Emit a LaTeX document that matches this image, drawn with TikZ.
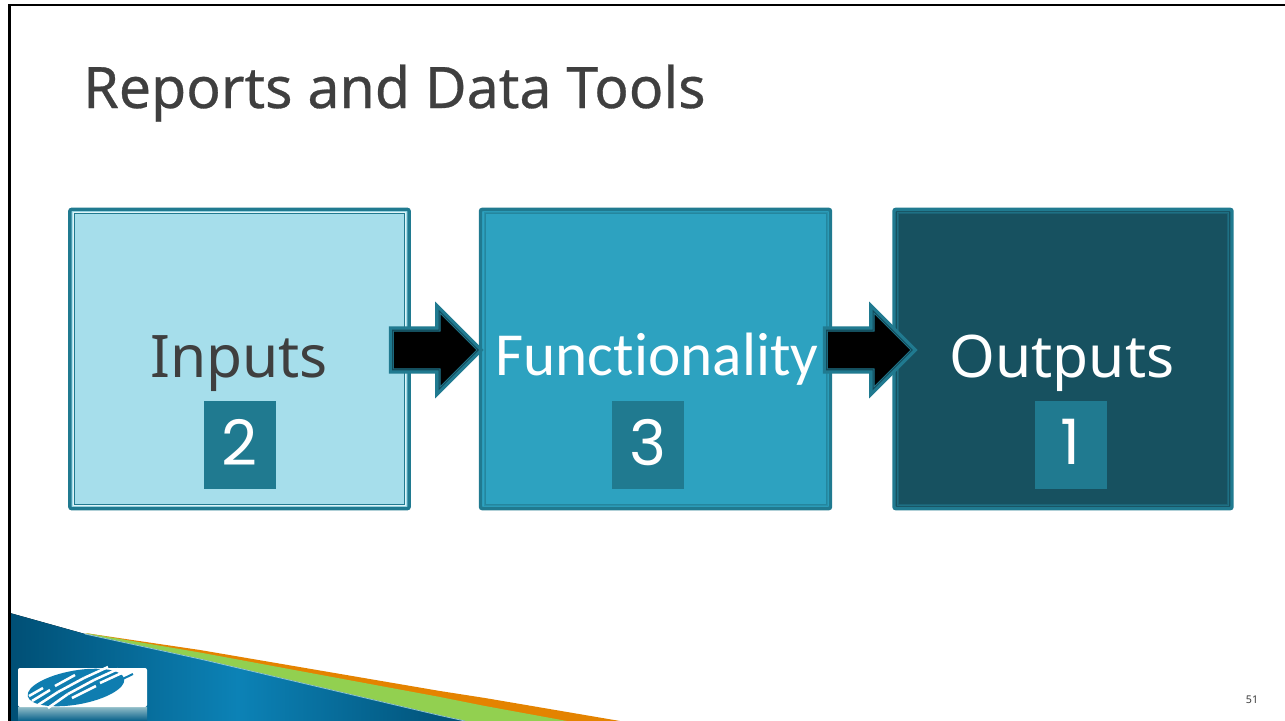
\documentclass[tikz,border=0pt]{standalone}
\usepackage{fontspec}
\setmainfont{Noto Sans}
\newfontfamily\boxfont[Ligatures=NoCommon]{Carlito}
\newfontfamily\digitfont{Poppins}
\newfontfamily\titlefont[FakeBold=0.5]{Noto Sans}
\usetikzlibrary{shapes.arrows,calc}
\definecolor{tealb}{HTML}{207A90}
\definecolor{lightb}{HTML}{A6DEEB}
\definecolor{midb}{HTML}{2DA2C0}
\definecolor{darkb}{HTML}{175160}
\definecolor{arrline}{HTML}{134A5A}
\definecolor{txtdark}{HTML}{3F3F3F}
\definecolor{swdark}{HTML}{004F75}
\definecolor{swmid}{HTML}{0C82B6}
\definecolor{swgreen}{HTML}{92D050}
\definecolor{sworange}{HTML}{E48300}
\definecolor{swedge}{HTML}{8FC5D5}
\definecolor{logob}{HTML}{0F7DB0}
\tikzset{
  x=0.75pt,y=-0.75pt,
  panel/.style n args={3}{draw=tealb,line width=2.6pt,fill=#1,rounded corners=1.5pt,
    minimum width=254.5pt,minimum height=224.5pt,inner sep=0pt,anchor=center,
    path picture={
      \draw[#3,line width=0.9pt,sharp corners]
      ([xshift=3.3pt,yshift=-3.3pt]path picture bounding box.north west) rectangle
      ([xshift=-3.3pt,yshift=3.3pt]path picture bounding box.south east);
      \draw[#2,line width=0.5pt,sharp corners]
      ([xshift=2.6pt,yshift=-2.6pt]path picture bounding box.north west) rectangle
      ([xshift=-2.6pt,yshift=2.6pt]path picture bounding box.south east);}},
  numbox/.style={fill=tealb,minimum width=54pt,minimum height=66pt,inner sep=0pt,text=white,
    font=\digitfont\fontsize{47}{47}\selectfont},
  boxlabel/.style={inner sep=0pt,anchor=base,font=\fontsize{44}{44}\selectfont},
  blockarrow/.style={single arrow,minimum width=52.5pt,minimum height=61.5pt,
    single arrow head extend=13pt,inner xsep=0pt,inner ysep=13.5pt,fill=black,
    preaction={draw=tealb,line width=8pt,miter limit=20},
    preaction={draw=arrline,line width=3pt,miter limit=20},
    preaction={draw=tealb,line width=1.2pt,miter limit=20}},
  logostripe/.style={draw=white,line width=1.9pt}
}
\begin{document}
\begin{tikzpicture}
\useasboundingbox (0,0) rectangle (1285,721);
\fill[white] (0,0) rectangle (1285,721);
% swoosh
\fill[sworange] (85,633) -- (200,650) -- (440,691) -- (485,698) -- (620,721) -- (400,721) -- cycle;
\fill[swgreen] (85,633) -- (200,652.5) -- (440,697) -- (485,706) -- (567,721) -- (400,721) -- cycle;
\fill[left color=swdark,right color=swdark,middle color=swmid]
  (10,613) -- (85,634) -- (200,659) -- (440,715.5) -- (465,721) -- (10,721) -- cycle;
\draw[swedge,line width=0.6pt] (85,634) -- (200,659) -- (440,715.5) -- (465,721);
% frame
\draw[black,line width=2pt,line join=miter] (9.5,721) -- (9.5,5) -- (1285,5);
% title
\node[inner sep=0pt,anchor=base west,text=txtdark,font=\titlefont\fontsize{42.9}{43}\selectfont]
  (title) at (83,108) {Reports and Data Tools};
% panels
\node[panel={lightb}{lightb!35!white}{tealb}] (inputs) at (239.5,359) {};
\node[panel={midb}{tealb!45!midb}{tealb!70!midb},minimum width=262.5pt] (func) at (655.5,359) {};
\node[panel={darkb}{tealb!75!darkb}{tealb!45!darkb},minimum width=253.5pt] (outputs) at (1063,359) {};
% numbers
\node[numbox] (n2) at (240,445) {\raisebox{4.5pt}{2}};
\node[numbox] (n3) at (648,445) {\raisebox{4.5pt}{3}};
\node[numbox] (n1) at (1071,445) {\raisebox{4.5pt}{1}};
% labels
\node[boxlabel,text=txtdark] (linputs) at (239,377) {Inputs};
\node[boxlabel,text=white,font=\boxfont\fontsize{45.9}{46}\selectfont] (lfunc) at (657,375) {Functionality};
\node[boxlabel,text=white] (loutputs) at (1062,377) {Outputs};
% arrows
\node[blockarrow] (a1) at (426,350) {};
\node[blockarrow] (a2) at (860,350) {};
% logo
\fill[top color=tealb!50!white,bottom color=swdark!70!swmid] (18,707) rectangle (147,721);
\fill[white,rounded corners=1.5pt] (18,668) rectangle (147,707);
\begin{scope}
\fill[logob,rotate around={10:(76,687.5)}] (76,687.5) ellipse (49 and 17);
\draw[logob,line width=1.5pt] (110,685) -- (133,674);
\draw[logostripe] (29,696) -- (43,688);
\draw[logostripe] (32,701) -- (50,690);
\draw[logostripe] (38,705) -- (58,692);
\draw[logostripe] (48,708) -- (68,694);
\draw[logostripe] (55,686) -- (75,675);
\draw[logostripe] (58,692) -- (84,678);
\draw[logostripe] (68,694) -- (94,680);
\draw[logostripe] (72,698) -- (96,686);
\draw[logostripe] (84,678) -- (108,667);
\draw[logostripe] (94,680) -- (118,669);
\draw[logostripe] (100,683) -- (126,671);
\end{scope}
% page number
\node[inner sep=0pt,text=txtdark,font=\fontsize{8}{8}\selectfont] (pg) at (1252,700) {51};
\end{tikzpicture}
\end{document}
